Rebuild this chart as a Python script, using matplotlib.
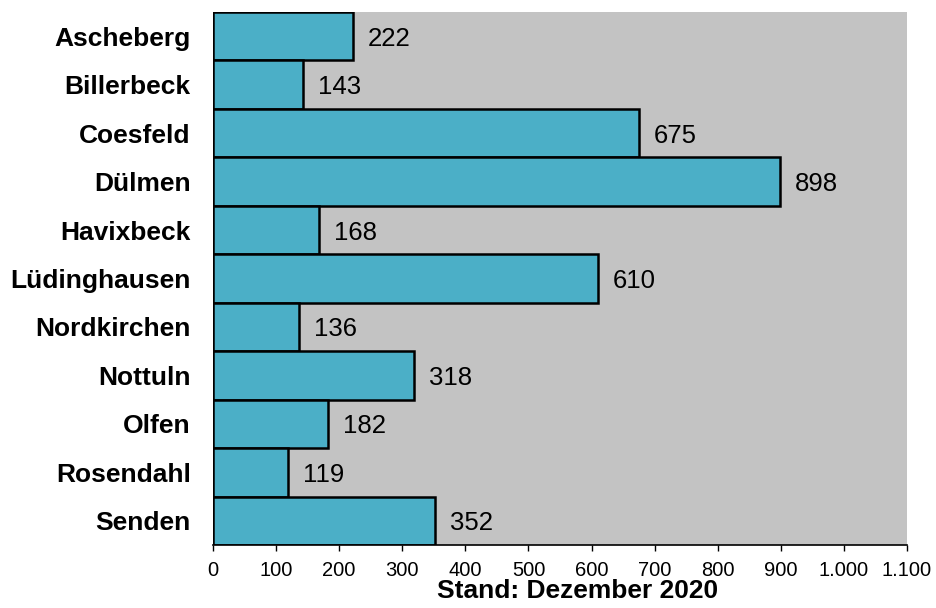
import matplotlib
matplotlib.use("Agg")
import matplotlib.pyplot as plt
from matplotlib.ticker import FuncFormatter

plt.rcParams['font.family'] = ['Liberation Sans', 'DejaVu Sans']

orte = ["Ascheberg", "Billerbeck", "Coesfeld", "Dülmen", "Havixbeck",
        "Lüdinghausen", "Nordkirchen", "Nottuln", "Olfen", "Rosendahl", "Senden"]
werte = [222, 143, 675, 898, 168, 610, 136, 318, 182, 119, 352]
x_ticks = [0, 100, 200, 300, 400, 500, 600, 700, 800, 900, 1000, 1100]
titel = "Stand: Dezember 2020"

bar_color = "#4BAFC7"
bg_color = "#C3C3C3"

fig = plt.figure(figsize=(9.36, 6.08), dpi=100)
ax = fig.add_axes([213 / 936, 1 - 545 / 608, (907 - 213) / 936, (545 - 12) / 608])
ax.set_facecolor(bg_color)

pos = list(range(len(orte)))
ax.barh(pos, werte, height=1.0, color=bar_color, edgecolor="black", linewidth=1.8, zorder=2)

for y, v in zip(pos, werte):
    ax.text(v + 24, y, str(v), va="center_baseline", ha="left", fontsize=18.5,
            color="black", zorder=3)

ax.set_ylim(len(orte) - 0.5, -0.5)
ax.set_xlim(0, 1100)
ax.set_yticks(pos)
ax.set_yticklabels(orte, fontsize=19, fontweight="bold")
ax.tick_params(axis="y", length=0, pad=16)

ax.set_xticks(x_ticks)
ax.xaxis.set_major_formatter(FuncFormatter(lambda v, _: f"{int(v):,}".replace(",", ".")))
ax.tick_params(axis="x", length=4.5, width=1, pad=7, labelsize=14.5, direction="out")

for side in ("top", "right", "left"):
    ax.spines[side].set_visible(False)
ax.spines["bottom"].set_linewidth(1.2)

fig.text(578 / 936, 1 - 598 / 608, titel, ha="center", va="baseline",
         fontsize=19, fontweight="bold")

fig.savefig("out.png", dpi=100)
